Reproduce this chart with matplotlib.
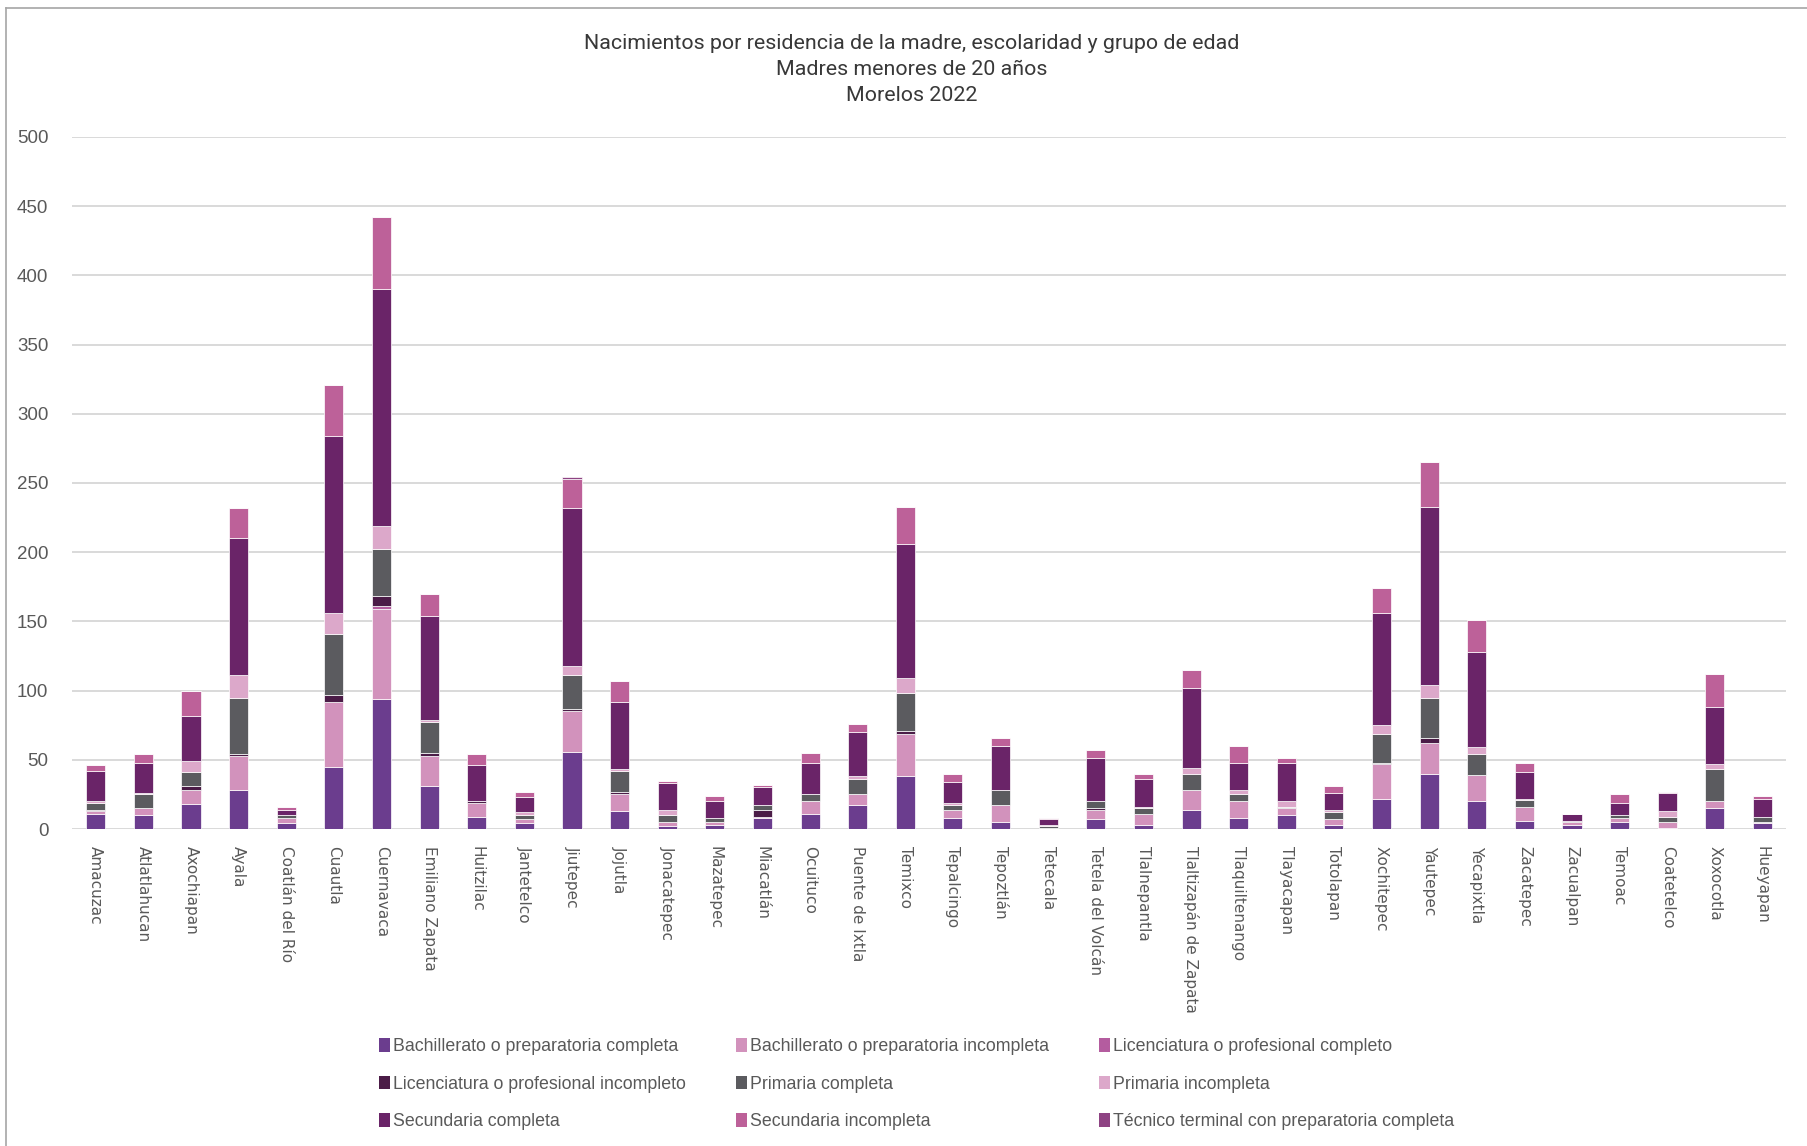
import numpy as np
import matplotlib.pyplot as plt
from matplotlib.patches import Patch
from matplotlib.lines import Line2D

municipios = ["Amacuzac", "Atlatlahucan", "Axochiapan", "Ayala", "Coatlán del Río",
              "Cuautla", "Cuernavaca", "Emiliano Zapata", "Huitzilac", "Jantetelco",
              "Jiutepec", "Jojutla", "Jonacatepec", "Mazatepec", "Miacatlán",
              "Ocuituco", "Puente de Ixtla", "Temixco", "Tepalcingo", "Tepoztlán",
              "Tetecala", "Tetela del Volcán", "Tlalnepantla", "Tlaltizapán de Zapata",
              "Tlaquiltenango", "Tlayacapan", "Totolapan", "Xochitepec", "Yautepec",
              "Yecapixtla", "Zacatepec", "Zacualpan", "Temoac", "Coatetelco",
              "Xoxocotla", "Hueyapan"]

# valores por nivel de escolaridad
bach_completa   = [11, 10, 18, 28, 4, 45, 94, 31, 9, 4, 56, 13, 2, 3, 8, 11, 17, 38,
                   8, 5, 0, 7, 3, 14, 8, 10, 3, 22, 40, 20, 6, 3, 5, 1, 15, 4]
bach_incompleta = [2, 5, 10, 25, 4, 47, 65, 22, 10, 3, 29, 12, 3, 2, 1, 9, 8, 31,
                   6, 12, 1, 7, 8, 14, 12, 5, 4, 25, 22, 19, 10, 2, 3, 4, 5, 1]
lic_completo    = [0, 0, 0, 0, 0, 0, 2, 0, 0, 0, 0, 0, 0, 0, 0, 0, 0, 0,
                   0, 0, 0, 0, 0, 0, 0, 0, 0, 0, 0, 0, 0, 0, 0, 0, 0, 0]
lic_incompleto  = [1, 0, 3, 1, 0, 5, 7, 2, 1, 0, 2, 2, 0, 0, 5, 0, 0, 2,
                   0, 0, 0, 1, 0, 0, 0, 0, 0, 1, 4, 0, 0, 0, 0, 0, 0, 0]
prim_completa   = [5, 10, 10, 41, 2, 44, 34, 22, 0, 3, 24, 15, 5, 3, 3, 5, 11, 27,
                   3, 11, 1, 5, 4, 12, 5, 1, 5, 21, 29, 15, 5, 1, 2, 4, 23, 4]
prim_incompleta = [1, 1, 8, 16, 0, 15, 17, 2, 0, 2, 7, 1, 4, 0, 0, 0, 2, 11,
                   2, 0, 1, 0, 1, 4, 3, 4, 2, 6, 9, 5, 1, 0, 0, 4, 4, 0]
sec_completa    = [22, 22, 33, 99, 4, 128, 171, 75, 26, 11, 114, 49, 19, 12, 13, 23, 32, 97,
                   15, 32, 4, 31, 20, 58, 20, 28, 12, 81, 129, 69, 19, 5, 9, 13, 41, 13]
sec_incompleta  = [4, 6, 18, 22, 2, 37, 52, 16, 8, 4, 21, 15, 2, 4, 2, 7, 6, 27,
                   6, 6, 1, 6, 4, 13, 12, 3, 5, 18, 32, 23, 7, 0, 6, 1, 24, 2]
tecnico         = [0, 0, 0, 0, 0, 0, 0, 0, 0, 0, 1, 0, 0, 0, 0, 0, 0, 0,
                   0, 0, 0, 0, 0, 0, 0, 0, 0, 0, 0, 0, 0, 0, 0, 0, 0, 0]

series = [
    ("Bachillerato o preparatoria completa", bach_completa, "#6B3D8E"),
    ("Bachillerato o preparatoria incompleta", bach_incompleta, "#D292BC"),
    ("Licenciatura o profesional completo", lic_completo, "#B45C9F"),
    ("Licenciatura o profesional incompleto", lic_incompleto, "#4B1C47"),
    ("Primaria completa", prim_completa, "#5B5B5F"),
    ("Primaria incompleta", prim_incompleta, "#DCA8CA"),
    ("Secundaria completa", sec_completa, "#6A2468"),
    ("Secundaria incompleta", sec_incompleta, "#BD6199"),
    ("Técnico terminal con preparatoria completa", tecnico, "#8E4383"),
]

fig = plt.figure(figsize=(18.08, 11.46), dpi=100)
ax = fig.add_axes([0.0398, 0.2766, 0.9482, 0.6039])

x = np.arange(len(municipios))
bottom = np.zeros(len(municipios))
for name, vals, col in series:
    vals = np.array(vals, dtype=float)
    ax.bar(x, vals, width=0.4, bottom=bottom, color=col, label=name,
           edgecolor="white", linewidth=0.5, zorder=3)
    bottom += vals

ax.set_xlim(-0.5, len(municipios) - 0.5)
ax.set_ylim(0, 500)
ax.set_yticks(np.arange(0, 501, 50))
ax.yaxis.grid(True, color="#D9D9D9", linewidth=1.4, zorder=0)
for s in ax.spines.values():
    s.set_visible(False)
ax.tick_params(axis="both", length=0)
ax.tick_params(axis="y", pad=17, labelsize=13.5, labelcolor="#595959")
ax.set_yticklabels([str(v) for v in range(0, 501, 50)], family="Liberation Sans")
ax.set_xticks(x)
ax.set_xticklabels(municipios, rotation=-90, fontsize=11, color="#595959",
                   family="DejaVu Sans", va="top", ha="center")
ax.tick_params(axis="x", pad=12)

fig.text(0.5045, 0.9395,
         "Nacimientos por residencia de la madre, escolaridad y grupo de edad\n"
         "Madres menores de 20 años\nMorelos 2022",
         ha="center", va="center", fontsize=15.4, color="#383838",
         family=["Roboto", "DejaVu Sans"], linespacing=1.45)

# legend filled row by row like the original
order = [0, 3, 6, 1, 4, 7, 2, 5, 8]
handles = [Patch(facecolor=series[i][2], edgecolor="none") for i in order]
labels = [series[i][0] for i in order]
leg = fig.legend(handles, labels, loc="center", bbox_to_anchor=(0.507, 0.054),
                 ncol=3, frameon=False, handlelength=0.6,
                 handleheight=0.8, handletextpad=0.2, columnspacing=2.8,
                 labelspacing=1.15, prop={"family": "Liberation Sans", "size": 12.8})
for t in leg.get_texts():
    t.set_color("#595959")

# chart area border
fig.add_artist(Line2D([0.0033, 1.0], [0.993, 0.993], transform=fig.transFigure,
                      color="#A6A6A6", linewidth=1.2))
fig.add_artist(Line2D([0.0033, 0.0033], [0.0, 0.993], transform=fig.transFigure,
                      color="#A6A6A6", linewidth=1.2))

fig.savefig("out.png", dpi=100)
